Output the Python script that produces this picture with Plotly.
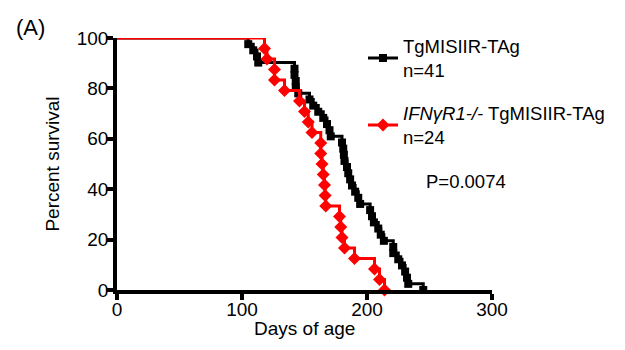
import plotly.graph_objects as go

# Days of death (Kaplan-Meier events)
black_days = [105, 109, 112, 113, 142, 142, 143, 143, 145, 154,
              157, 161, 165, 168, 170, 171, 180, 181, 181.5, 182,
              184, 185, 186.5, 188, 190.5, 193, 194.5, 202.5, 204, 205.5,
              209, 211, 213.5, 221, 221, 225, 228, 230.5, 232, 233,
              245]
red_days = [118, 120, 126, 126, 134, 146, 150, 153, 156, 163,
            163, 164, 165, 166, 166.5, 167, 178, 179, 180, 182,
            190, 206, 210, 214]

black_name = "TgMISIIR-TAg<br>n=41"
red_name = "<i>IFNγR1-/-</i> TgMISIIR-TAg<br>n=24"
x_ticks = [0, 100, 200, 300]
y_ticks = [0, 20, 40, 60, 80, 100]
p_text = "P=0.0074"

FONT = "Liberation Sans, Arial, sans-serif"


def km(days):
    n = len(days)
    xs, ys = [0], [100.0]
    for i, d in enumerate(sorted(days)):
        xs.append(d)
        ys.append(100.0 * (n - i - 1) / n)
    return xs, ys


fig = go.Figure()

for days, color, symbol, msize, name, grp in [
    (black_days, "#000000", "square", 8, black_name, "a"),
    (red_days, "#FF0000", "diamond", 10, red_name, "b"),
]:
    xs, ys = km(days)
    fig.add_trace(go.Scatter(x=xs, y=ys, mode="lines", line=dict(color=color, width=3, shape="hv"),
                             showlegend=False, cliponaxis=False, hoverinfo="skip"))
    fig.add_trace(go.Scatter(x=xs[1:], y=ys[1:], mode="markers",
                             marker=dict(color=color, symbol=symbol, size=msize, line=dict(width=0)),
                             showlegend=False, cliponaxis=False))
    fig.add_trace(go.Scatter(x=[None], y=[None], mode="lines+markers", name=name, legendgroup=grp,
                             line=dict(color=color, width=3),
                             marker=dict(color=color, symbol=symbol, size=msize, line=dict(width=0))))

fig.update_layout(
    width=625, height=350,
    margin=dict(l=117, r=133, t=38, b=60),
    paper_bgcolor="white", plot_bgcolor="white",
    font=dict(family=FONT, size=19, color="black"),
    showlegend=True,
    legend=dict(x=0.656, y=1.042, xanchor="left", yanchor="top", bgcolor="rgba(0,0,0,0)",
                font=dict(size=18.5), tracegroupgap=16, itemwidth=30),
    xaxis=dict(range=[0, 300], tickvals=x_ticks, showline=True, linewidth=3.5, linecolor="black",
               ticks="outside", ticklen=6, tickwidth=3.5, tickcolor="black", showgrid=False, zeroline=False,
               tickfont=dict(size=19), ticklabelstandoff=-7),
    yaxis=dict(range=[0, 100], tickvals=y_ticks, showline=True, linewidth=3.5, linecolor="black",
               ticks="outside", ticklen=6, tickwidth=3.5, tickcolor="black", showgrid=False, zeroline=False,
               tickfont=dict(size=19), ticklabelstandoff=-5,
               title=dict(text="Percent survival", font=dict(size=19), standoff=13)),
    annotations=[
        dict(text="(A)", xref="paper", yref="paper", x=(14 - 117) / 375, y=(290 - 28) / 252,
             xanchor="left", yanchor="middle", showarrow=False, font=dict(size=22)),
        dict(text="Days of age", xref="paper", yref="paper", x=(304 - 117) / 375, y=(290 - 328) / 252,
             xanchor="center", yanchor="middle", showarrow=False, font=dict(size=19)),
        dict(text=p_text, xref="paper", yref="paper", x=(466 - 117) / 375, y=(290 - 181) / 252,
             xanchor="center", yanchor="middle", showarrow=False, font=dict(size=18.5)),
    ],
)

fig.write_html("out.html")
